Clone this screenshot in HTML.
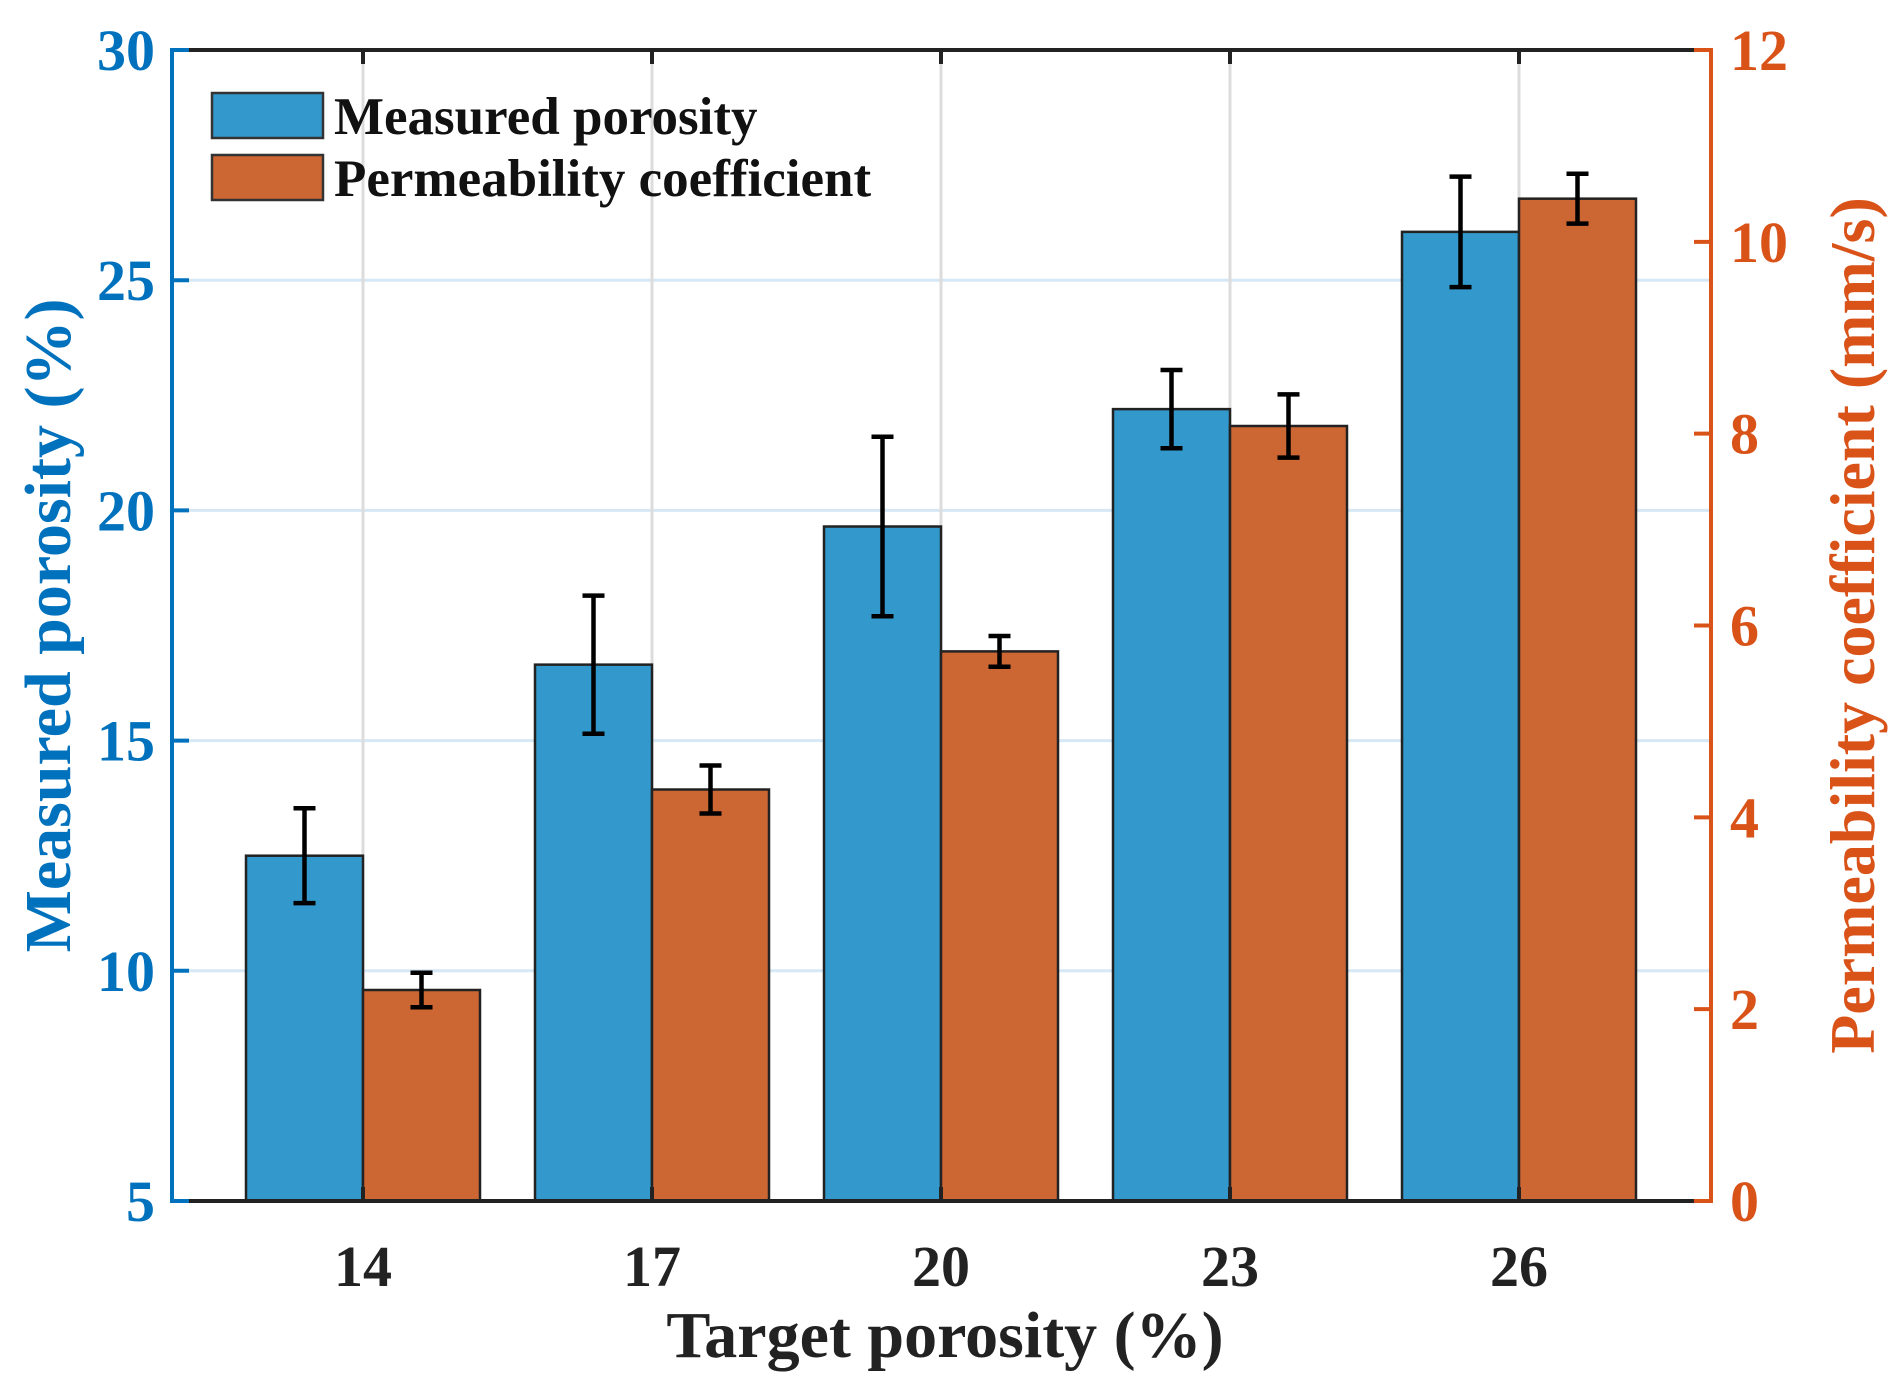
<!DOCTYPE html>
<html><head><meta charset="utf-8"><style>
html,body{margin:0;padding:0;background:#fff}
svg{display:block}
text{font-family:"Liberation Serif",serif;font-weight:bold}
</style></head><body>
<svg id="chart" width="1903" height="1388" viewBox="0 0 1903 1388" xmlns="http://www.w3.org/2000/svg">
<g id="grid"></g><g id="bars"></g><g id="axes"></g>
</svg>
<script>
const categories = ["14","17","20","23","26"];
const porosity = [12.5, 16.65, 19.65, 22.2, 26.05];
const porosityErr = [1.03, 1.5, 1.95, 0.85, 1.2];
const permeability = [2.2, 4.29, 5.73, 8.08, 10.45];
const permeabilityErr = [0.18, 0.25, 0.16, 0.33, 0.26];
const leftTicks = [5,10,15,20,25,30];
const rightTicks = [0,2,4,6,8,10,12];

const NS="http://www.w3.org/2000/svg";
const L=172,R=1711,T=50,B=1201;
const x0=363, dx=289, bw=117;
const xC=i=>x0+i*dx;
const yL=v=>B-(v-5)/25*(B-T);
const yR=v=>B-v/12*(B-T);
function mk(tag,attrs,parent,txt){const e=document.createElementNS(NS,tag);for(const k in attrs)e.setAttribute(k,attrs[k]);if(txt!==undefined)e.textContent=txt;document.getElementById(parent).appendChild(e);return e;}
const BLUE="#3399cc", ORANGE="#cc6633", LAX="#0072BD", RAX="#D95319";

// grid
leftTicks.forEach(v=>{const e=mk('line',{x1:L,x2:R,y1:yL(v),y2:yL(v),stroke:'#d6e8f5','stroke-width':3},'grid');

});
categories.forEach((c,i)=>{const e=mk('line',{x1:xC(i),x2:xC(i),y1:T,y2:B,stroke:'#dcdcdc','stroke-width':3},'grid');

});

// bars
categories.forEach((c,i)=>{
 const yb=yL(porosity[i]);
 const b=mk('rect',{x:xC(i)-bw,y:yb,width:bw,height:B-yb,fill:BLUE,stroke:'#222','stroke-width':2.5},'bars');
 
 
 const yo=yR(permeability[i]);
 const o=mk('rect',{x:xC(i),y:yo,width:bw,height:B-yo,fill:ORANGE,stroke:'#222','stroke-width':2.5},'bars');
 
 
 [[xC(i)-bw/2,yL(porosity[i]+porosityErr[i]),yL(porosity[i]-porosityErr[i]),'errorbar-porosity-'],
  [xC(i)+bw/2,yR(permeability[i]+permeabilityErr[i]),yR(permeability[i]-permeabilityErr[i]),'errorbar-permeability-']].forEach(a=>{
  const p=mk('path',{d:`M${a[0]},${a[1]}V${a[2]}M${a[0]-11},${a[1]}H${a[0]+11}M${a[0]-11},${a[2]}H${a[0]+11}`,stroke:'#000','stroke-width':4.5,fill:'none'},'bars');
  
  
 });
});

// axes
let e;
e=mk('line',{x1:L,x2:R,y1:T,y2:T,stroke:'#222','stroke-width':4},'axes');


e=mk('line',{x1:L,x2:R,y1:B,y2:B,stroke:'#222','stroke-width':4},'axes');


e=mk('line',{x1:L,x2:L,y1:T-2,y2:B+2,stroke:LAX,'stroke-width':4},'axes');


e=mk('line',{x1:R,x2:R,y1:T-2,y2:B+2,stroke:RAX,'stroke-width':4},'axes');


categories.forEach((c,i)=>{
 e=mk('path',{d:`M${xC(i)},${B}v-14M${xC(i)},${T}v14`,stroke:'#222','stroke-width':4},'axes');
 
 
 e=mk('text',{x:xC(i),y:1286,'text-anchor':'middle','font-size':58,fill:'#222'},'axes',c);
 
 
});
leftTicks.forEach(v=>{
 e=mk('line',{x1:L,x2:L+17,y1:yL(v),y2:yL(v),stroke:LAX,'stroke-width':4},'axes');
 
 
 e=mk('text',{x:155,y:yL(v)+20,'text-anchor':'end','font-size':58,fill:LAX},'axes',String(v));
 
 
});
rightTicks.forEach(v=>{
 e=mk('line',{x1:R-17,x2:R,y1:yR(v),y2:yR(v),stroke:RAX,'stroke-width':4},'axes');
 
 
 e=mk('text',{x:1730,y:yR(v)+20,'text-anchor':'start','font-size':58,fill:RAX},'axes',String(v));
 
 
});
e=mk('text',{x:945,y:1357,'text-anchor':'middle','font-size':66,fill:'#222'},'axes','Target porosity (%)');


e=mk('text',{x:0,y:0,'text-anchor':'middle','font-size':66,fill:LAX,transform:`translate(70,${(T+B)/2}) rotate(-90)`},'axes','Measured porosity (%)');


e=mk('text',{x:0,y:0,'text-anchor':'middle','font-size':64,fill:RAX,transform:`translate(1874,${(T+B)/2}) rotate(-90)`},'axes','Permeability coefficient (mm/s)');



// legend
e=mk('rect',{x:212,y:93,width:111,height:45,fill:BLUE,stroke:'#333','stroke-width':2.5},'axes');


e=mk('text',{x:334,y:134,'font-size':53,fill:'#111'},'axes','Measured porosity');


e=mk('rect',{x:212,y:155,width:111,height:45,fill:ORANGE,stroke:'#333','stroke-width':2.5},'axes');


e=mk('text',{x:334,y:196,'font-size':53,fill:'#111'},'axes','Permeability coefficient');


</script>
</body></html>
